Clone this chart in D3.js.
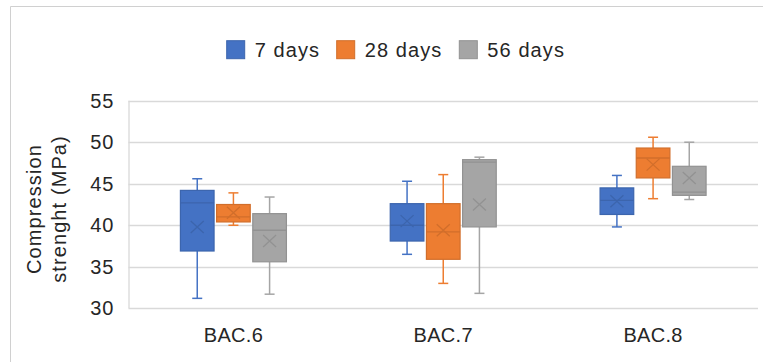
<!DOCTYPE html>
<html><head><meta charset="utf-8">
<script src="https://cdn.jsdelivr.net/npm/d3@7"></script>
<style>body{margin:0;background:#fff}svg{display:block;font-family:"Liberation Sans",Arial,sans-serif}</style>
</head><body><svg id="c" width="763" height="362"></svg>
<script>
const categories = ["BAC.6", "BAC.7", "BAC.8"];
const seriesNames = ["7 days", "28 days", "56 days"];
const seriesColors = ["#4472C4", "#ED7D31", "#A5A5A5"];
// each entry: [min, q1, median, q3, max, mean] per category
const days7  = [[31.2, 36.9, 42.7, 44.2, 45.6, 39.8], [36.5, 38.1, 40.0, 42.6, 45.3, 40.5], [39.8, 41.3, 43.0, 44.5, 46.0, 42.9]];
const days28 = [[40.0, 40.4, 41.0, 42.5, 43.9, 41.5], [33.0, 35.9, 39.2, 42.6, 46.1, 39.4], [43.2, 45.7, 48.1, 49.3, 50.6, 47.3]];
const days56 = [[31.7, 35.6, 39.4, 41.4, 43.4, 38.1], [31.8, 39.8, 47.6, 47.9, 48.2, 42.5], [43.1, 43.6, 44.0, 47.1, 50.0, 45.7]];
const yTicks = [30, 35, 40, 45, 50, 55];

const seriesData = [days7, days28, days56];
const textCol = "#262626";
const svg = d3.select("#c");
const m = {l: 128.5, r: 758, t: 100.7, b: 308.3};

// outer frame
svg.append("path").attr("d", "M10.5,362 V6.5 H763").attr("fill", "none").attr("stroke", "#d0d0d0").attr("stroke-width", 1);

const y = d3.scaleLinear().domain([30, 55]).range([m.b, m.t]);
const x = d3.scaleBand().domain(categories).range([m.l, m.r]);
const xs = d3.scaleBand().domain(seriesNames).range([-53, 53]).paddingInner(0.07);

// gridlines
svg.append("g").selectAll("line").data(yTicks).join("line")
  .attr("x1", m.l).attr("x2", m.r).attr("y1", d => Math.round(y(d)) + 0.5).attr("y2", d => Math.round(y(d)) + 0.5)
  .attr("stroke", "#d9d9d9").attr("stroke-width", 1.3);
svg.append("line").attr("x1", m.l + 0.5).attr("x2", m.l + 0.5).attr("y1", m.t).attr("y2", m.b)
  .attr("stroke", "#d9d9d9").attr("stroke-width", 1.3);

// y axis
const yAxis = svg.append("g").attr("transform", `translate(${m.l},0)`)
  .call(d3.axisLeft(y).tickValues(yTicks).tickSize(0).tickPadding(14));
yAxis.select(".domain").remove();
yAxis.selectAll("text").attr("font-size", 20).attr("letter-spacing", "1px").attr("fill", textCol).attr("font-family", "Liberation Sans, Arial");

// x axis
const xAxis = svg.append("g").attr("transform", `translate(0,${m.b})`)
  .call(d3.axisBottom(x).tickSize(0).tickPadding(20));
xAxis.select(".domain").remove();
xAxis.selectAll("text").attr("font-size", 20).attr("letter-spacing", "0.3px").attr("fill", textCol).attr("font-family", "Liberation Sans, Arial");

// y title
const yt = svg.append("text").attr("transform", "translate(41,209) rotate(-90)")
  .attr("text-anchor", "middle").attr("font-size", 20).attr("letter-spacing", "1.1px").attr("fill", textCol);
yt.append("tspan").attr("x", 0).attr("dy", 0).text("Compression");
yt.append("tspan").attr("x", 0).attr("dy", 25).text("strenght (MPa)");

// boxes
seriesData.forEach((sd, si) => {
  const col = seriesColors[si];
  const dark = d3.color(col).darker(0.35).formatHex();
  const g = svg.append("g");
  sd.forEach((v, ci) => {
    const [mn, q1, med, q3, mx, mean] = v;
    const cx = x(categories[ci]) + x.bandwidth() / 2 + xs(seriesNames[si]) + xs.bandwidth() / 2;
    const w = xs.bandwidth();
    const gg = g.append("g");
    gg.append("line").attr("x1", cx).attr("x2", cx).attr("y1", y(mx)).attr("y2", y(q3)).attr("stroke", col).attr("stroke-width", 1.5);
    gg.append("line").attr("x1", cx).attr("x2", cx).attr("y1", y(q1)).attr("y2", y(mn)).attr("stroke", col).attr("stroke-width", 1.5);
    gg.append("line").attr("x1", cx - 5).attr("x2", cx + 5).attr("y1", y(mx)).attr("y2", y(mx)).attr("stroke", col).attr("stroke-width", 1.5);
    gg.append("line").attr("x1", cx - 5).attr("x2", cx + 5).attr("y1", y(mn)).attr("y2", y(mn)).attr("stroke", col).attr("stroke-width", 1.5);
    gg.append("rect").attr("x", cx - w / 2).attr("y", y(q3)).attr("width", w).attr("height", y(q1) - y(q3))
      .attr("fill", col).attr("stroke", dark).attr("stroke-width", 1.2);
    gg.append("line").attr("x1", cx - w / 2).attr("x2", cx + w / 2).attr("y1", y(med)).attr("y2", y(med)).attr("stroke", dark).attr("stroke-width", 1.3);
    const ym = y(mean);
    gg.append("path").attr("d", `M${cx - 6.5},${ym - 6}L${cx + 6.5},${ym + 6}M${cx - 6.5},${ym + 6}L${cx + 6.5},${ym - 6}`)
      .attr("stroke", dark).attr("stroke-width", 1.3).attr("fill", "none");
  });
});

// legend
const legX = [226.7, 336.7, 459.3];
const lg = svg.append("g");
seriesNames.forEach((n, i) => {
  lg.append("rect").attr("x", legX[i]).attr("y", 40.7).attr("width", 18).attr("height", 18)
    .attr("fill", seriesColors[i]).attr("stroke", d3.color(seriesColors[i]).darker(0.35).formatHex()).attr("stroke-width", 1);
  lg.append("text").attr("x", legX[i] + 28).attr("y", 56.7).attr("font-size", 20).attr("letter-spacing", "1.1px").attr("fill", textCol).text(n);
});
</script></body></html>
